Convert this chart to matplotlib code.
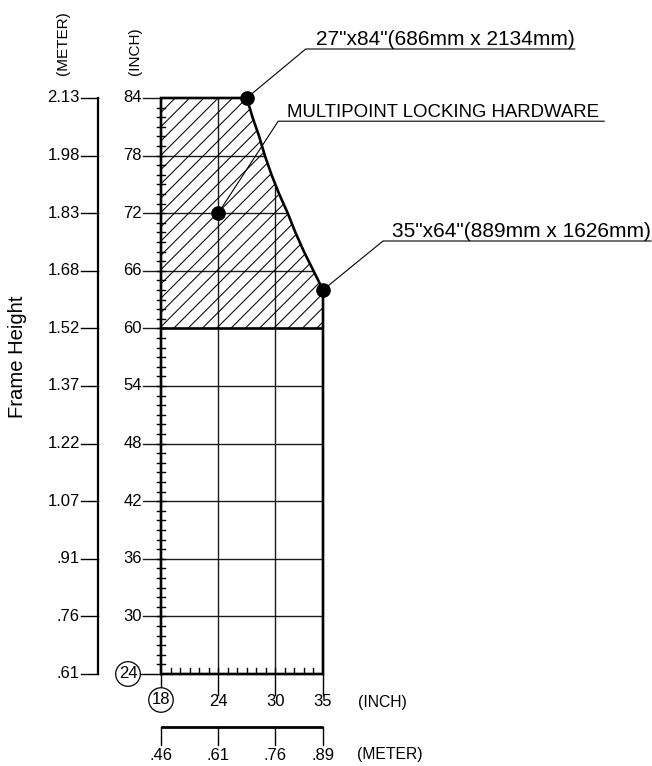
import matplotlib
matplotlib.use('Agg')
import matplotlib.pyplot as plt
import numpy as np
from matplotlib.patches import Polygon
from matplotlib.collections import LineCollection

plt.rcParams['font.family'] = ['Liberation Sans', 'DejaVu Sans']

# ---------------- data ----------------
inch_h_ticks = [24, 30, 36, 42, 48, 54, 60, 66, 72, 78, 84]
meter_h_labels = ['.61', '.76', '.91', '1.07', '1.22', '1.37', '1.52', '1.68', '1.83', '1.98', '2.13']
inch_w_ticks = [18, 24, 30, 35]
meter_w_labels = ['.46', '.61', '.76', '.89']
curve_heights = [84, 82, 80, 78, 76, 74, 72, 70, 68, 66, 64]
curve_widths = [27.0, 27.6, 28.3, 28.9, 29.6, 30.4, 31.3, 32.1, 33.0, 34.0, 35.0]
min_width, max_width = 18, 35
min_height, max_height = 24, 84
hardware_min_height = 60
point_widths = [27, 35, 24]
point_heights = [84, 64, 72]
point_labels = ['27"x84"(686mm x 2134mm)', '35"x64"(889mm x 1626mm)',
                'MULTIPOINT LOCKING HARDWARE']

# ---------------- figure ----------------
W, H = 652, 766
fig = plt.figure(figsize=(W / 100, H / 100), dpi=100)
ax = fig.add_axes([161 / W, (H - 674) / H, 162 / W, 576 / H])
ax.axis('off')
sx = 162 / (max_width - min_width)      # px per inch (x)
sy = 576 / (max_height - min_height)    # px per inch (y)


def dx(px):
    return px / sx


def dy(px):
    return px / sy


K = 'black'
curve = list(zip(curve_widths, curve_heights))

# outline of allowed region
verts = [(min_width, min_height), (min_width, max_height)] + curve + [(max_width, min_height)]
outline = Polygon(verts, closed=True, fill=False, lw=1.9, ec=K, clip_on=False,
                  joinstyle='miter', zorder=4)
ax.add_patch(outline)

# grid lines clipped to region
grid_h = [h for h in inch_h_ticks if h not in (min_height, max_height, hardware_min_height)]
hl = ax.hlines(grid_h, min_width, max_width, lw=1.0, color='#1a1a1a', zorder=2)
hl.set_clip_path(outline)
vl = ax.vlines(inch_w_ticks[1:-1], min_height, max_height, lw=1.0, color='#1a1a1a', zorder=2)
vl.set_clip_path(outline)
ax.hlines(hardware_min_height, min_width, max_width, lw=1.9, color=K, zorder=4)

# hatch of multipoint hardware zone
hverts = [(min_width, hardware_min_height), (min_width, max_height)] + curve + \
         [(max_width, hardware_min_height)]
hpoly = Polygon(hverts, closed=True, fill=False, lw=0)
ax.add_patch(hpoly)
span = max_height - hardware_min_height
run = span * sy / sx
offs = np.arange(min_width - run - 1.5, max_width + 1.5, 1.5)
segs = [[(o, hardware_min_height), (o + run, max_height)] for o in offs]
lc = LineCollection(segs, lw=0.75, color=K, zorder=3)
ax.add_collection(lc)
lc.set_clip_path(hpoly)

# ---------- left inch axis ----------
for h in inch_h_ticks[1:]:
    ax.plot([min_width - dx(18), min_width], [h, h], color='#1a1a1a', lw=1.0,
            clip_on=False, zorder=2)
    ax.text(min_width - dx(19), h, str(h), ha='right', va='center', fontsize=12,
            clip_on=False)
for h in range(min_height + 1, max_height):
    ax.plot([min_width - dx(3.8), min_width + dx(3.8)], [h, h], color=K, lw=1.0,
            clip_on=False, zorder=4)
# circled 24
ax.plot([min_width - dx(33), min_width], [min_height, min_height], color=K, lw=1.0,
        clip_on=False, zorder=1)
ax.text(min_width - dx(33), min_height, str(inch_h_ticks[0]), ha='center', va='center',
        fontsize=12, clip_on=False, zorder=5,
        bbox=dict(boxstyle='circle,pad=0.18', fc='white', ec=K, lw=0.9))

# ---------- left meter axis ----------
mx = min_width - dx(63)
ax.plot([mx, mx], [min_height, max_height], color=K, lw=1.6, clip_on=False)
for h, lab in zip(inch_h_ticks, meter_h_labels):
    ax.plot([min_width - dx(80), mx], [h, h], color=K, lw=1.0, clip_on=False)
    ax.text(min_width - dx(81), h, lab, ha='right', va='center', fontsize=12,
            clip_on=False)

# headers
ax.text(min_width - dx(98), max_height + dy(23), '(METER)', rotation=90, ha='center',
        va='bottom', fontsize=11, clip_on=False)
ax.text(min_width - dx(26), max_height + dy(23), '(INCH)', rotation=90, ha='center',
        va='bottom', fontsize=11, clip_on=False)
ax.text(min_width - dx(143.5), max_height - dy(259), 'Frame Height', rotation=90,
        ha='center', va='center', fontsize=14.6, clip_on=False)

# ---------- bottom inch axis ----------
for w in range(min_width + 1, max_width):
    ax.plot([w, w], [min_height, min_height + dy(6.5)], color=K, lw=1.0, clip_on=False,
            zorder=4)
for w in inch_w_ticks[1:]:
    ax.plot([w, w], [min_height, min_height - dy(21)], color=K, lw=1.0, clip_on=False)
    ax.text(w, min_height - dy(28), str(w), ha='center', va='center', fontsize=12,
            clip_on=False)
ax.plot([min_width, min_width], [min_height, min_height - dy(26)], color=K, lw=1.0,
        clip_on=False, zorder=1)
ax.text(min_width, min_height - dy(26), str(inch_w_ticks[0]), ha='center', va='center',
        fontsize=12, clip_on=False, zorder=5,
        bbox=dict(boxstyle='circle,pad=0.18', fc='white', ec=K, lw=0.9))
ax.text(min_width + dx(197), min_height - dy(28), '(INCH)', ha='left', va='center',
        fontsize=11.3, clip_on=False)

# ---------- bottom meter axis ----------
my = min_height - dy(53)
ax.plot([min_width, max_width], [my, my], color=K, lw=2.0, clip_on=False,
        solid_capstyle='butt')
for w, lab in zip(inch_w_ticks, meter_w_labels):
    ax.plot([w, w], [my, min_height - dy(71)], color=K, lw=1.0, clip_on=False)
    ax.text(w, min_height - dy(81), lab, ha='center', va='center', fontsize=12,
            clip_on=False)
ax.text(min_width + dx(196), min_height - dy(81), '(METER)', ha='left', va='center',
        fontsize=11.3, clip_on=False)

# ---------- points and leaders ----------
ax.plot(point_widths, point_heights, 'o', color=K, ms=9.5, clip_on=False, zorder=6)

# leader geometry (kink offset in px, line end px, text offset px, font size)
leaders = [
    ((59, 49), 328, 10, 15),
    ((60, 49), 328, 9, 15),
    ((60, 92), 386, 9, 13.4),
]
for (w, h, lab, (kx, ky), lend, toff, fs) in zip(
        point_widths, point_heights, point_labels,
        [l[0] for l in leaders], [l[1] for l in leaders],
        [l[2] for l in leaders], [l[3] for l in leaders]):
    kxd, kyd = w + dx(kx), h + dy(ky)
    ax.plot([w, kxd, kxd + dx(lend - kx)], [h, kyd, kyd], color=K, lw=0.8,
            clip_on=False, zorder=5)
    ax.text(kxd + dx(toff), kyd + dy(4), lab, ha='left', va='baseline', fontsize=fs,
            clip_on=False)

ax.set_xlim(min_width, max_width)
ax.set_ylim(min_height, max_height)
fig.savefig('out.png', dpi=100)
